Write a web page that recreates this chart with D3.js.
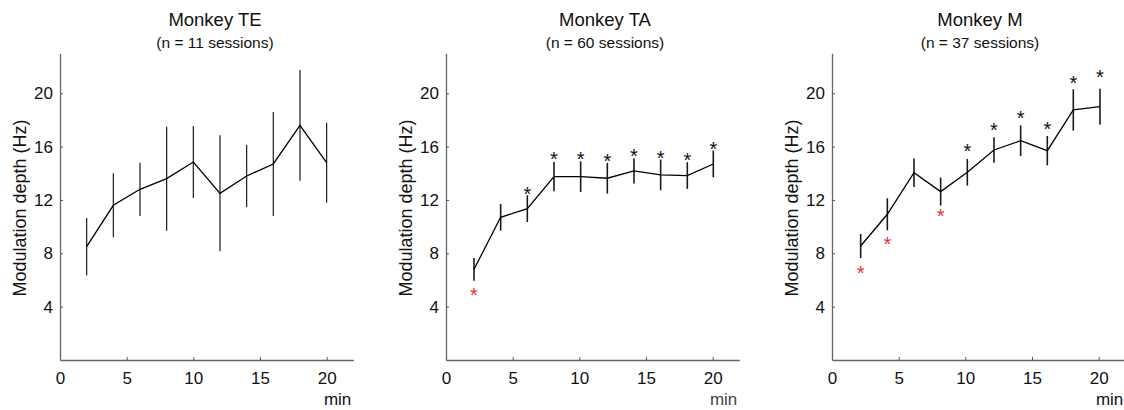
<!DOCTYPE html>
<html>
<head>
<meta charset="utf-8">
<script src="https://cdn.jsdelivr.net/npm/d3@7/dist/d3.min.js"></script>
<style>
  html, body { margin: 0; padding: 0; background: #fff; }
  svg { display: block; font-family: "Liberation Sans", Arial, sans-serif; }
</style>
</head>
<body>
<svg id="chart" width="1124" height="410"></svg>
<script>
// ---------------- data ----------------
const titles = ["Monkey TE", "Monkey TA", "Monkey M"];
const subtitles = ["(n = 11 sessions)", "(n = 60 sessions)", "(n = 37 sessions)"];
const xTicks = [0, 5, 10, 15, 20];
const yTicks = [4, 8, 12, 16, 20];
const yLabel = "Modulation depth (Hz)";
const xLabel = "min";

// Monkey TE
const teX    = [2, 4, 6, 8, 10, 12, 14, 16, 18, 20];
const teMean = [8.5, 11.6, 12.8, 13.6, 14.85, 12.5, 13.8, 14.7, 17.6, 14.8];
const teErr  = [2.15, 2.4, 2.0, 3.9, 2.7, 4.35, 2.35, 3.9, 4.15, 3.0];
const teStar = [null, null, null, null, null, null, null, null, null, null];
const teStarColor = [null, null, null, null, null, null, null, null, null, null];

// Monkey TA
const taX    = [2.1, 4.1, 6.1, 8.1, 10.1, 12.1, 14.1, 16.1, 18.1, 20.05];
const taMean = [6.8, 10.7, 11.35, 13.75, 13.75, 13.63, 14.18, 13.88, 13.83, 14.7];
const taErr  = [0.85, 1.0, 1.0, 1.1, 1.15, 1.15, 0.95, 1.15, 1.0, 1.0];
const taStar = [5.2, null, 12.83, 15.4, 15.4, 15.25, 15.63, 15.5, 15.33, 16.18];
const taStarColor = ["r", null, "k", "k", "k", "k", "k", "k", "k", "k"];

// Monkey M
const mX    = [2.15, 4.15, 6.15, 8.15, 10.15, 12.15, 14.15, 16.15, 18.1, 20.1];
const mMean = [8.55, 10.93, 14.05, 12.63, 14.08, 15.75, 16.45, 15.7, 18.75, 19.0];
const mErr  = [0.9, 1.2, 1.07, 1.05, 1.0, 0.95, 1.15, 1.1, 1.55, 1.35];
const mStar = [6.88, 9.05, null, 11.13, 16.0, 17.63, 18.5, 17.68, 21.13, 21.55];
const mStarColor = ["r", "r", null, "r", "k", "k", "k", "k", "k", "k"];

const panels = [
  { x: teX, mean: teMean, err: teErr, star: teStar, starColor: teStarColor },
  { x: taX, mean: taMean, err: taErr, star: taStar, starColor: taStarColor },
  { x: mX,  mean: mMean,  err: mErr,  star: mStar,  starColor: mStarColor }
];

// ---------------- layout ----------------
const panelLeft = [60, 446, 832];
const titleX = [215, 605, 980];
const errWidth = [1.2, 1.6, 1.6];
const axisW = 293.3;
const yTop = 53.3, yBottom = 360;
const colors = { k: "#111", r: "#e8312f" };

const svg = d3.select("#chart");

panels.forEach((p, i) => {
  const x0 = panelLeft[i];
  const x = d3.scaleLinear().domain([0, 22]).range([x0, x0 + axisW]);
  const y = d3.scaleLinear().domain([0, 23]).range([yBottom, yTop]);
  const g = svg.append("g");

  // axes
  const xa = g.append("g").attr("transform", `translate(0,${yBottom})`)
    .call(d3.axisBottom(x).tickValues(xTicks).tickSizeInner(-3).tickSizeOuter(0).tickPadding(11.5));
  const ya = g.append("g").attr("transform", `translate(${x0},0)`)
    .call(d3.axisLeft(y).tickValues(yTicks).tickSizeInner(-3).tickSizeOuter(0).tickPadding(7));
  [xa, ya].forEach(a => {
    a.select(".domain").attr("stroke", "#666").attr("stroke-width", 1.3);
    a.selectAll(".tick line").attr("stroke", "#555").attr("stroke-width", 1);
    a.selectAll(".tick text").attr("fill", "#111").style("font-size", "17px")
      .style("font-family", "'Liberation Sans', Arial, sans-serif");
  });

  // titles
  g.append("text").attr("x", titleX[i]).attr("y", 26).attr("text-anchor", "middle")
    .style("font-size", "18.5px").attr("fill", "#111").text(titles[i]);
  g.append("text").attr("x", titleX[i]).attr("y", 48).attr("text-anchor", "middle")
    .style("font-size", "15.5px").attr("fill", "#111").text(subtitles[i]);

  // axis labels
  g.append("text")
    .attr("transform", `translate(${x0 - 34},${208}) rotate(-90)`)
    .attr("text-anchor", "middle")
    .style("font-size", "18px").attr("fill", "#111").text(yLabel);
  g.append("text").attr("x", x0 + axisW - 2).attr("y", 404.5).attr("text-anchor", "end")
    .style("font-size", "17px").attr("fill", i === 1 ? "#444" : "#111").text(xLabel);

  // error bars
  g.selectAll(".err").data(p.x).enter().append("line")
    .attr("x1", (d) => x(d)).attr("x2", (d) => x(d))
    .attr("y1", (d, j) => y(p.mean[j] + p.err[j]))
    .attr("y2", (d, j) => y(p.mean[j] - p.err[j]))
    .attr("stroke", "#1a1a1a").attr("stroke-width", errWidth[i]);

  // mean line
  const line = d3.line().x((d) => x(d[0])).y((d) => y(d[1]));
  g.append("path").datum(p.x.map((d, j) => [d, p.mean[j]]))
    .attr("d", line).attr("fill", "none").attr("stroke", "#000").attr("stroke-width", 1.3);

  // significance stars
  const fs = 20;
  g.selectAll(".star").data(p.x.map((d, j) => ({ x: d, y: p.star[j], c: p.starColor[j] }))
      .filter(d => d.y !== null))
    .enter().append("text")
    .attr("x", d => x(d.x))
    .attr("y", d => y(d.y) + fs * 0.58)
    .attr("text-anchor", "middle")
    .style("font-size", fs + "px")
    .attr("fill", d => colors[d.c])
    .text("*");
});
</script>
</body>
</html>
